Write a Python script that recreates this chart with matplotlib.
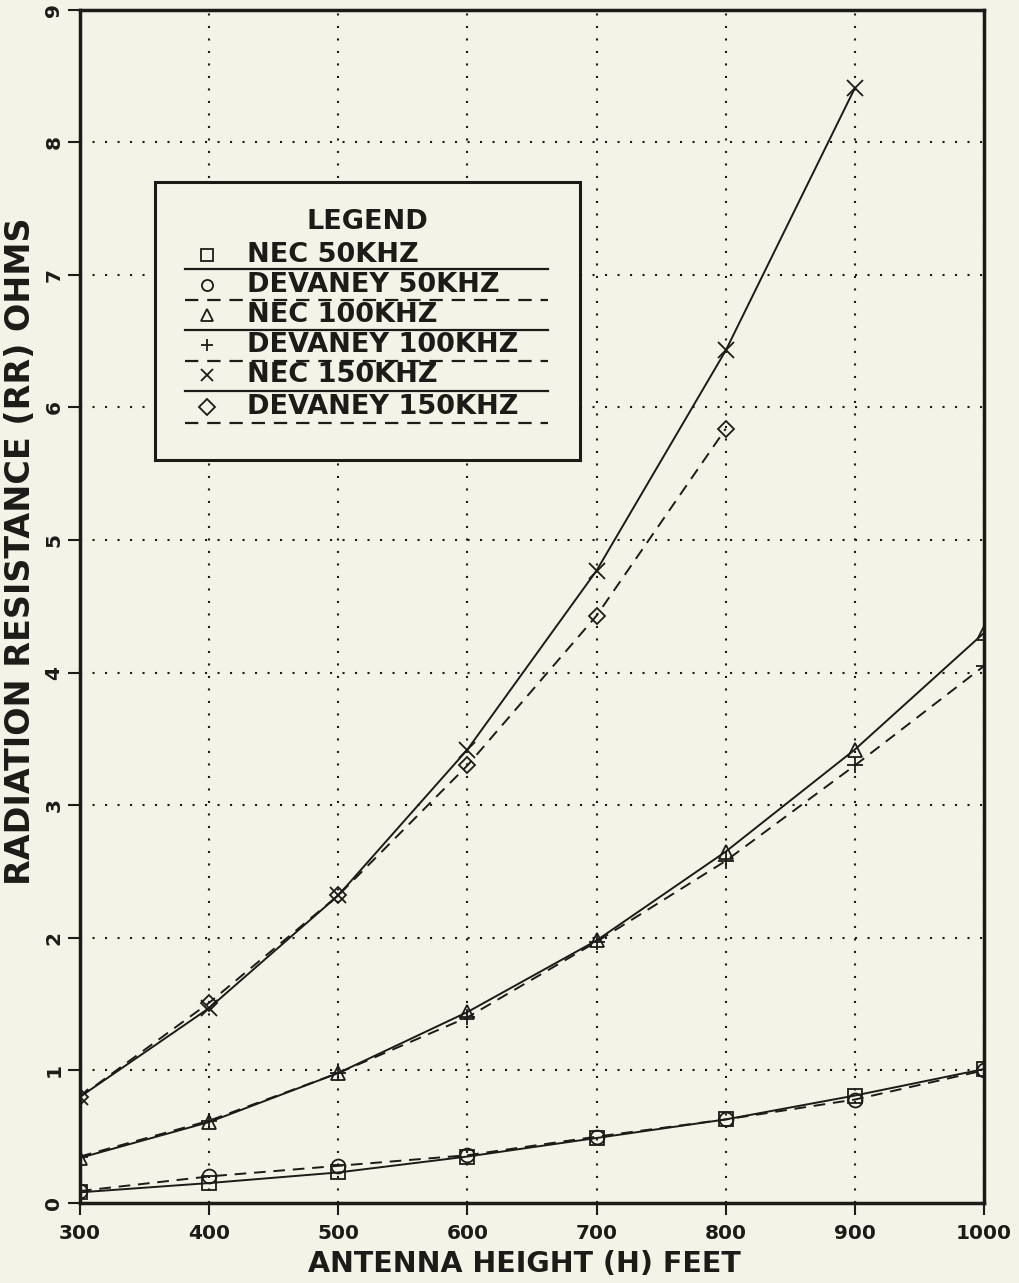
import matplotlib.pyplot as plt
from matplotlib.patches import Rectangle
from matplotlib.lines import Line2D

plt.rcParams['font.family'] = ['DejaVu Sans']
plt.rcParams['font.weight'] = 'bold'

heights = [300, 400, 500, 600, 700, 800, 900, 1000]

nec_50 = [0.08, 0.15, 0.23, 0.35, 0.49, 0.63, 0.81, 1.01]
dev_50 = [0.09, 0.20, 0.28, 0.36, 0.50, 0.63, 0.78, 1.00]
nec_100 = [0.34, 0.61, 0.98, 1.44, 1.98, 2.65, 3.42, 4.30]
dev_100 = [0.35, 0.62, 0.98, 1.40, 1.97, 2.58, 3.30, 4.05]
nec_150 = [0.80, 1.47, 2.32, 3.42, 4.77, 6.43, 8.41]
dev_150 = [0.80, 1.51, 2.32, 3.30, 4.43, 5.84]

labels = ["NEC 50KHZ", "DEVANEY 50KHZ", "NEC 100KHZ",
          "DEVANEY 100KHZ", "NEC 150KHZ", "DEVANEY 150KHZ"]
markers = ['s', 'o', '^', '+', 'x', 'D']
styles = ['-', '--', '-', '--', '-', '--']
series = [nec_50, dev_50, nec_100, dev_100, nec_150, dev_150]

bg = '#f3f3e8'
ink = '#1e1a18'

fig = plt.figure(figsize=(10.19, 12.83), dpi=100, facecolor=bg)
ax = fig.add_axes([0.0785, 0.0624, 0.8872, 0.930])
ax.set_facecolor(bg)

sizes = [10, 10, 10, 11, 11, 8]
for ys, m, ls, ms in zip(series, markers, styles, sizes):
    ax.plot(heights[:len(ys)], ys, linestyle=ls, color=ink, lw=1.4,
            marker=m, ms=ms, mfc='none', mec=ink, mew=1.3,
            dashes=(6, 4) if ls == '--' else (None, None))

ax.set_xlim(300, 1000)
ax.set_ylim(0, 9)
ax.set_xticks(heights)
ax.set_yticks(range(0, 10))
ax.set_xticklabels([str(h) for h in heights], fontsize=14.5, fontweight='bold')
ax.set_yticklabels([str(v) for v in range(0, 10)], fontsize=14.5,
                   fontweight='bold', rotation=90, va='center')
ax.tick_params(axis='both', length=8.5, width=1.5, color=ink, labelcolor=ink,
               direction='out')
ax.tick_params(axis='x', pad=7)
ax.tick_params(axis='y', pad=3.5)
ax.grid(True, linestyle=(0, (1, 5)), color=ink, lw=1.5)
for s in ax.spines.values():
    s.set_linewidth(2.5)
    s.set_color(ink)

fig.text(524 / 1019, 1 - 1264 / 1283, "ANTENNA HEIGHT (H) FEET", fontsize=20.5,
         fontweight='bold', color=ink, ha='center', va='center')
fig.text(21 / 1019, 1 - 551 / 1283, "RADIATION RESISTANCE (RR) OHMS",
         fontsize=24, fontweight='bold', color=ink, ha='center', va='center',
         rotation=90)

# boxed legend drawn by hand in axes coordinates
def fx(px):
    return (px - 80) / 904.0

def fy(py):
    return (1203 - py) / 1193.6

box = Rectangle((fx(155), fy(460)), fx(580) - fx(155), fy(182) - fy(460),
                transform=ax.transAxes, facecolor=bg, edgecolor=ink, lw=2.2,
                zorder=5)
ax.add_patch(box)
ax.text(fx(367), fy(222), "LEGEND", transform=ax.transAxes, ha='center',
        va='center', fontsize=19.5, fontweight='bold', color=ink, zorder=6)

text_rows = [255, 285, 315, 345, 375, 407]
line_rows = [269, 300, 330, 361, 391, 423]
for lab, m, ls, ty, ly in zip(labels, markers, styles, text_rows, line_rows):
    ax.add_line(Line2D([fx(207)], [fy(ty)], transform=ax.transAxes,
                       marker=m, ms=8, mfc='none', mec=ink, mew=1.3,
                       linestyle='none', zorder=6))
    ax.text(fx(247), fy(ty), lab, transform=ax.transAxes, ha='left',
            va='center', fontsize=19.5, fontweight='bold', color=ink, zorder=6)
    ax.add_line(Line2D([fx(185), fx(548)], [fy(ly), fy(ly)],
                       transform=ax.transAxes, color=ink, lw=1.6,
                       linestyle=ls, dashes=(6, 4) if ls == '--' else (None, None),
                       zorder=6))

fig.savefig("out.png", dpi=100, facecolor=bg)
